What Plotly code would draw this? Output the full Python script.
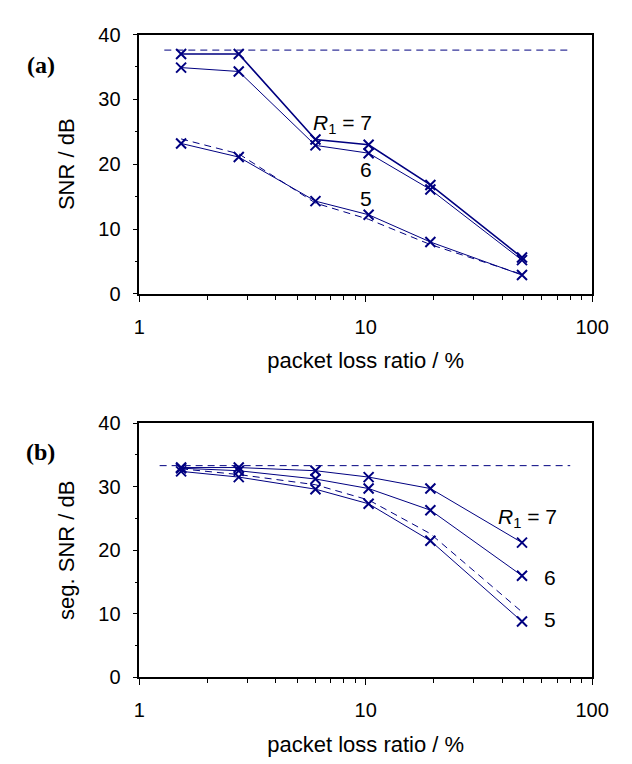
import plotly.graph_objects as go

# ---- data ----
loss_ratio = [1.53, 2.75, 6.0, 10.3, 19.3, 49.0]

# panel (a): SNR / dB
snr_r7 = [37.0, 37.0, 23.8, 23.0, 16.8, 5.6]
snr_r6 = [34.9, 34.3, 22.9, 21.7, 16.1, 5.2]
snr_r5 = [23.2, 21.1, 14.3, 12.2, 8.0, 2.9]
snr_r5_dashed = [23.9, 21.6, 14.0, 11.5, 7.6, 3.0]
snr_ref_x = [1.29, 81.0]
snr_ref_y = [37.6, 37.6]

# panel (b): seg. SNR / dB
seg_r7 = [33.0, 33.0, 32.5, 31.5, 29.7, 21.2]
seg_r6 = [32.9, 32.5, 31.2, 29.7, 26.3, 16.0]
seg_r5 = [32.4, 31.5, 29.6, 27.3, 21.5, 8.8]
seg_r5_dashed = [32.8, 31.9, 30.3, 27.9, 22.6, 10.3]
seg_ref_x = [1.23, 80.0]
seg_ref_y = [33.3, 33.3]

x_tickvals = [1, 10, 100]
x_ticktext = ["1", "10", "100"]
x_minor = [2, 3, 4, 5, 6, 7, 8, 9, 20, 30, 40, 50, 60, 70, 80, 90]
y_tickvals = [0, 10, 20, 30, 40]

NAVY = "#000080"
FONT = "Liberation Sans, Arial, sans-serif"
W, H = 632, 764

fig = go.Figure()

def add_series(x, y, xa, ya, width=1.0, dash=None, markers=True):
    fig.add_trace(go.Scatter(
        x=x, y=y, xaxis=xa, yaxis=ya,
        mode="lines+markers" if markers else "lines",
        line=dict(color=NAVY, width=width, dash=dash),
        marker=dict(symbol="x-thin", size=10, color=NAVY,
                    line=dict(color=NAVY, width=2)),
        showlegend=False, hoverinfo="skip"))

DASH = "7px,5px"
# panel a
add_series(snr_ref_x, snr_ref_y, "x", "y", dash=DASH, markers=False)
add_series(loss_ratio, snr_r5_dashed, "x", "y", dash=DASH, markers=False)
add_series(loss_ratio, snr_r5, "x", "y")
add_series(loss_ratio, snr_r6, "x", "y")
add_series(loss_ratio, snr_r7, "x", "y", width=1.6)

# panel b
add_series(seg_ref_x, seg_ref_y, "x2", "y2", dash=DASH, markers=False)
add_series(loss_ratio, seg_r5_dashed, "x2", "y2", dash=DASH, markers=False)
add_series(loss_ratio, seg_r5, "x2", "y2")
add_series(loss_ratio, seg_r6, "x2", "y2")
add_series(loss_ratio, seg_r7, "x2", "y2")

xdom = [130 / W, 600 / W]
ya_dom = [1 - 283 / H, 1 - 16 / H]
yb_dom = [1 - 678 / H, 1 - 416 / H]

def xaxis(anchor):
    return dict(
        type="log", range=[0, 2], domain=xdom, anchor=anchor,
        tickmode="array", tickvals=x_tickvals, ticktext=x_ticktext,
        ticks="outside", ticklen=6, tickwidth=1, tickcolor="black",
        ticklabelstandoff=8,
        minor=dict(tickmode="array", tickvals=x_minor, ticks="outside",
                   ticklen=4, tickwidth=1, tickcolor="black", showgrid=False),
        showline=True, linecolor="black", linewidth=1.5, mirror=True,
        showgrid=False, zeroline=False,
        tickfont=dict(family=FONT, size=20, color="black"),
        title=dict(text="packet loss ratio / %", standoff=16,
                   font=dict(family=FONT, size=22, color="black")))

def yaxis(anchor, dom, title):
    return dict(
        range=[0, 40], domain=dom, anchor=anchor,
        tickmode="array", tickvals=y_tickvals,
        ticks="outside", ticklen=5, tickwidth=1, tickcolor="black",
        ticklabelstandoff=8,
        minor=dict(dtick=5, tick0=0, ticks="outside", ticklen=3,
                   tickwidth=1, tickcolor="black", showgrid=False),
        showline=True, linecolor="black", linewidth=1.5, mirror=True,
        showgrid=False, zeroline=False,
        tickfont=dict(family=FONT, size=20, color="black"),
        title=dict(text=title, standoff=18,
                   font=dict(family=FONT, size=22, color="black")))

fig.update_layout(
    width=W, height=H,
    margin=dict(l=0, r=0, t=0, b=0),
    paper_bgcolor="white", plot_bgcolor="white",
    xaxis=xaxis("y"), yaxis=yaxis("x", ya_dom, "SNR / dB"),
    xaxis2=xaxis("y2"), yaxis2=yaxis("x2", yb_dom, "seg. SNR / dB"),
)

txt = dict(family=FONT, size=21, color="black")
ann = [
    dict(text="<i>R</i><sub>1</sub> = 7", x=0.899, y=26.2, xref="x", yref="y"),
    dict(text="6", x=1.002, y=19.2, xref="x", yref="y"),
    dict(text="5", x=1.002, y=14.7, xref="x", yref="y"),
    dict(text="<i>R</i><sub>1</sub> = 7", x=1.714, y=25.1, xref="x2", yref="y2"),
    dict(text="6", x=1.814, y=15.7, xref="x2", yref="y2"),
    dict(text="5", x=1.814, y=9.1, xref="x2", yref="y2"),
]
for a in ann:
    fig.add_annotation(**a, showarrow=False, font=txt)

lab = dict(family="Liberation Serif, Times New Roman, serif", size=24, color="black")
fig.add_annotation(text="<b>(a)</b>", x=28 / W, y=1 - 47 / H, xref="paper", yref="paper",
                   xanchor="center", yanchor="middle", showarrow=False, font=lab)
fig.add_annotation(text="<b>(b)</b>", x=28 / W, y=1 - 446 / H, xref="paper", yref="paper",
                   xanchor="center", yanchor="middle", showarrow=False, font=lab)

fig.write_html("out.html")
